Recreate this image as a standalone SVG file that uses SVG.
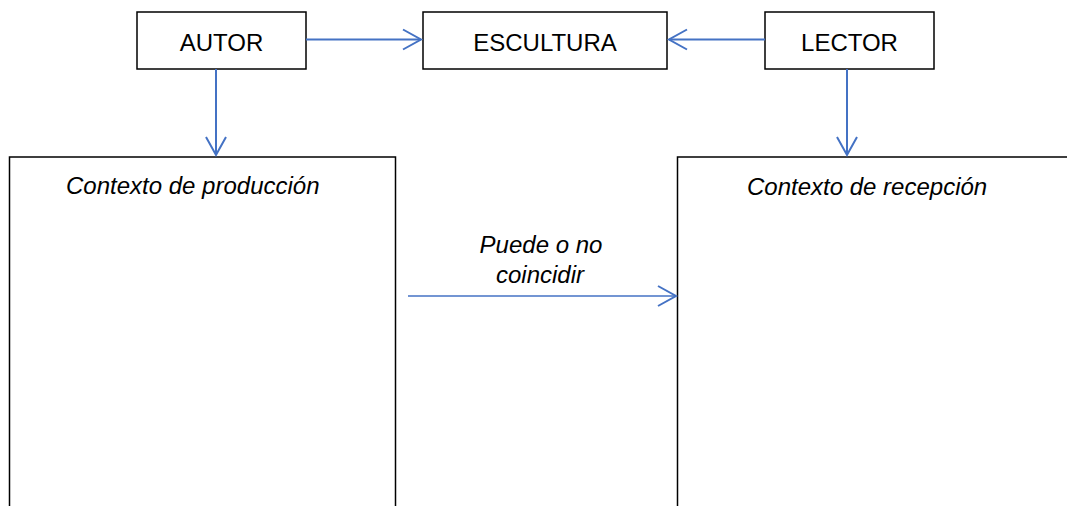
<svg xmlns="http://www.w3.org/2000/svg" width="1067" height="506" viewBox="0 0 1067 506">
<style>
.box{fill:#fff;stroke:#000;stroke-width:1.5}
.lbl{font-family:"Liberation Sans",Arial,sans-serif;font-size:24px;fill:#000;text-anchor:middle}
.ital{font-family:"Liberation Sans",Arial,sans-serif;font-size:24px;font-style:italic;fill:#000}
.conn{fill:none;stroke:#4472C4;stroke-width:2}
.thin{stroke-width:1.5}
</style>
<defs>
<marker id="arr" markerUnits="userSpaceOnUse" markerWidth="24" markerHeight="24" viewBox="-20 -12 24 24" refX="0" refY="0" orient="auto">
<path d="M-18,-10 L0,0 L-18,10" fill="none" stroke="#4472C4" stroke-width="2"/>
</marker>
</defs>
<rect width="1067" height="506" fill="#fff"/>
<g id="autor"><rect class="box" x="137" y="12" width="169" height="57"/><text class="lbl" x="221.5" y="51">AUTOR</text></g>
<g id="escultura"><rect class="box" x="423" y="12" width="244" height="57"/><text class="lbl" x="545" y="51">ESCULTURA</text></g>
<g id="lector"><rect class="box" x="765" y="12" width="169" height="57"/><text class="lbl" x="849.5" y="51">LECTOR</text></g>
<g id="produccion"><rect class="box" x="9.5" y="157" width="386" height="370"/><text class="ital" x="66" y="194">Contexto de producción</text></g>
<g id="recepcion"><rect class="box" x="677.5" y="157" width="400" height="370"/><text class="ital" x="747" y="195">Contexto de recepción</text></g>
<g id="nota"><text class="ital" x="541" y="253" text-anchor="middle">Puede o no</text><text class="ital" x="540" y="283" text-anchor="middle">coincidir</text></g>
<g id="connectors">
<line class="conn" x1="306" y1="39.5" x2="421" y2="39.5" marker-end="url(#arr)"/>
<line class="conn" x1="765" y1="39.5" x2="669" y2="39.5" marker-end="url(#arr)"/>
<line class="conn" x1="216" y1="69" x2="216" y2="155" marker-end="url(#arr)"/>
<line class="conn" x1="847" y1="69" x2="847" y2="155" marker-end="url(#arr)"/>
<line class="conn thin" x1="408" y1="296" x2="676" y2="296" marker-end="url(#arr)"/>
</g>
</svg>
